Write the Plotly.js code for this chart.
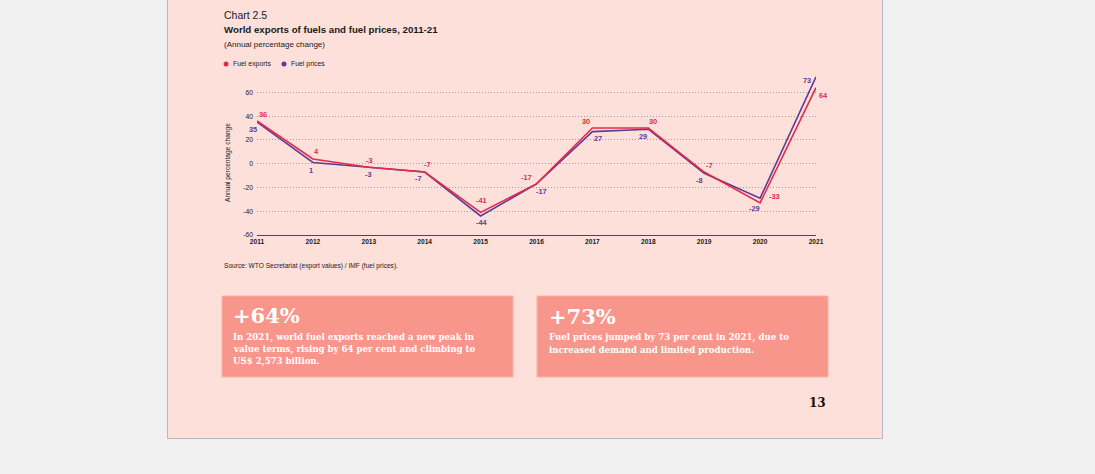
<!DOCTYPE html>
<html>
<head>
<meta charset="utf-8">
<script src="https://cdn.plot.ly/plotly-3.0.1.min.js"></script>
<style>
  html, body { margin: 0; padding: 0; background: #f0f0f0; }
  #chart { width: 1095px; height: 474px; }
</style>
</head>
<body>
<div id="chart"></div>
<script>
// ---- data ----
const years = [2011, 2012, 2013, 2014, 2015, 2016, 2017, 2018, 2019, 2020, 2021];
const fuelExports = [36, 4, -3, -7, -41, -17, 30, 30, -7, -33, 64];
const fuelPrices  = [35, 1, -3, -7, -44, -17, 27, 29, -8, -29, 73];
const yTicks = [-60, -40, -20, 0, 20, 40, 60];

// ---- label offsets (pixels) ----
const exportsLabelShift = [[6,6],[4,7],[1,7],[3,8],[1,12],[-10,6],[-6,7],[5,7],[5,7],[14,6],[7,-8]];
const pricesLabelShift  = [[-4,-7],[-2,-8],[0,-7],[-6,-6],[1,-7],[5,-8],[6,-7],[-5,-7],[-5,-7],[-6,-10],[-9,-4]];

const RED = '#e3294a';
const PURPLE = '#5f3a97';
const FONT = 'Liberation Sans, Arial, sans-serif';
const SLAB = 'DejaVu Serif, serif';

// plot area in pixels: x 257..816, y 71..235
const L = 257, R = 816, T = 71, B = 235;
const X = px => (px - L) / (R - L);
const Y = py => (B - py) / (B - T);

const traces = [
  { x: years, y: fuelPrices, type: 'scatter', mode: 'lines', name: 'Fuel prices',
    line: { color: PURPLE, width: 1.6 }, cliponaxis: false, showlegend: false },
  { x: years, y: fuelExports, type: 'scatter', mode: 'lines', name: 'Fuel exports',
    line: { color: RED, width: 1.6 }, cliponaxis: false, showlegend: false }
];

const annotations = [];
years.forEach((yr, i) => {
  annotations.push({ x: yr, y: fuelExports[i], xref: 'x', yref: 'y', text: '<b>' + fuelExports[i] + '</b>',
    showarrow: false, xshift: exportsLabelShift[i][0], yshift: exportsLabelShift[i][1],
    font: { family: FONT, size: 7.4, color: RED } });
  annotations.push({ x: yr, y: fuelPrices[i], xref: 'x', yref: 'y', text: '<b>' + fuelPrices[i] + '</b>',
    showarrow: false, xshift: pricesLabelShift[i][0], yshift: pricesLabelShift[i][1],
    font: { family: FONT, size: 7.4, color: PURPLE } });
});

function txt(px, py, text, size, opts) {
  return Object.assign({ xref: 'paper', yref: 'paper', x: X(px), y: Y(py), text: text,
    showarrow: false, xanchor: 'left', yanchor: 'middle', align: 'left',
    font: { family: FONT, size: size, color: '#1a1a1a' } }, opts || {});
}

annotations.push(txt(222, 15, 'Chart 2.5', 10.5));
annotations.push(txt(222, 29, '<b>World exports of fuels and fuel prices, 2011-21</b>', 9.7));
annotations.push(txt(222, 44, '(Annual percentage change)', 8));
annotations.push(txt(231, 64, 'Fuel exports', 6.9));
annotations.push(txt(289, 64, 'Fuel prices', 6.9));
annotations.push(txt(222, 266, 'Source: WTO Secretariat (export values) / IMF (fuel prices).', 6.6));
annotations.push({ xref: 'paper', yref: 'paper', x: X(228), y: Y(163), text: 'Annual percentage change',
  textangle: -90, showarrow: false, xanchor: 'center', yanchor: 'middle',
  font: { family: FONT, size: 6.6, color: '#1a1a1a' } });

// boxes
const BIG = { family: SLAB, size: 21, color: '#ffffff' };
const BODY = { family: SLAB, size: 8.6, color: '#ffffff' };
const box1Lines = ['In 2021, world fuel exports reached a new peak in', 'value terms, rising by 64 per cent and climbing to', 'US$ 2,573 billion.'];
const box2Lines = ['Fuel prices jumped by 73 per cent in 2021, due to', 'increased demand and limited production.'];
annotations.push(txt(231, 315, '<b>+64%</b>', 21, { font: BIG }));
box1Lines.forEach((s, i) => annotations.push(txt(231, 337.5 + i * 12.2, '<b>' + s + '</b>', 8.6, { font: BODY })));
annotations.push(txt(547, 316, '<b>+73%</b>', 21, { font: BIG }));
box2Lines.forEach((s, i) => annotations.push(txt(547, 337.5 + i * 12.2, '<b>' + s + '</b>', 8.6, { font: BODY })));
annotations.push(txt(828, 403, '<b>13</b>', 12, { xanchor: 'right', font: { family: SLAB, size: 12, color: '#111111' } }));

const shapes = [
  { type: 'rect', xref: 'paper', yref: 'paper', x0: X(167.5), x1: X(882.5), y0: Y(438.5), y1: Y(-5),
    fillcolor: '#fee0da', line: { color: '#b3b9c6', width: 1 }, layer: 'below' },
  { type: 'rect', xref: 'paper', yref: 'paper', x0: X(222), x1: X(513), y0: Y(377), y1: Y(296),
    fillcolor: '#f9968b', line: { color: '#fbb0a6', width: 1 }, layer: 'below' },
  { type: 'rect', xref: 'paper', yref: 'paper', x0: X(537), x1: X(828), y0: Y(377), y1: Y(296),
    fillcolor: '#f9968b', line: { color: '#fbb0a6', width: 1 }, layer: 'below' },
  { type: 'circle', xref: 'paper', yref: 'paper', x0: X(223.5), x1: X(228.5), y0: Y(66.5), y1: Y(61.5),
    fillcolor: RED, line: { width: 0 } },
  { type: 'circle', xref: 'paper', yref: 'paper', x0: X(281.5), x1: X(286.5), y0: Y(66.5), y1: Y(61.5),
    fillcolor: PURPLE, line: { width: 0 } }
];

const layout = {
  width: 1095, height: 474,
  margin: { l: L, r: 1095 - R, t: T, b: 474 - B, pad: 0 },
  paper_bgcolor: '#f0f0f0',
  plot_bgcolor: 'rgba(0,0,0,0)',
  showlegend: false,
  xaxis: {
    range: [2011, 2021], tickvals: years, ticktext: years.map(String),
    showgrid: false, zeroline: false, showline: true, linecolor: '#4a4a4a', linewidth: 1.4,
    ticks: '', tickfont: { family: FONT, size: 6.6, color: '#1a1a1a', weight: 'bold' }
  },
  yaxis: {
    range: [-60, 78], tickvals: yTicks, ticktext: yTicks.map(String),
    showgrid: true, gridcolor: '#8a8a8a', gridwidth: 0.8, griddash: '1px,2px',
    zeroline: false, showline: false, ticks: '', ticklabelstandoff: 3,
    tickfont: { family: FONT, size: 6.8, color: '#1a1a1a' }
  },
  annotations: annotations,
  shapes: shapes
};

Plotly.newPlot('chart', traces, layout, { displayModeBar: false, staticPlot: true });
</script>
</body>
</html>
